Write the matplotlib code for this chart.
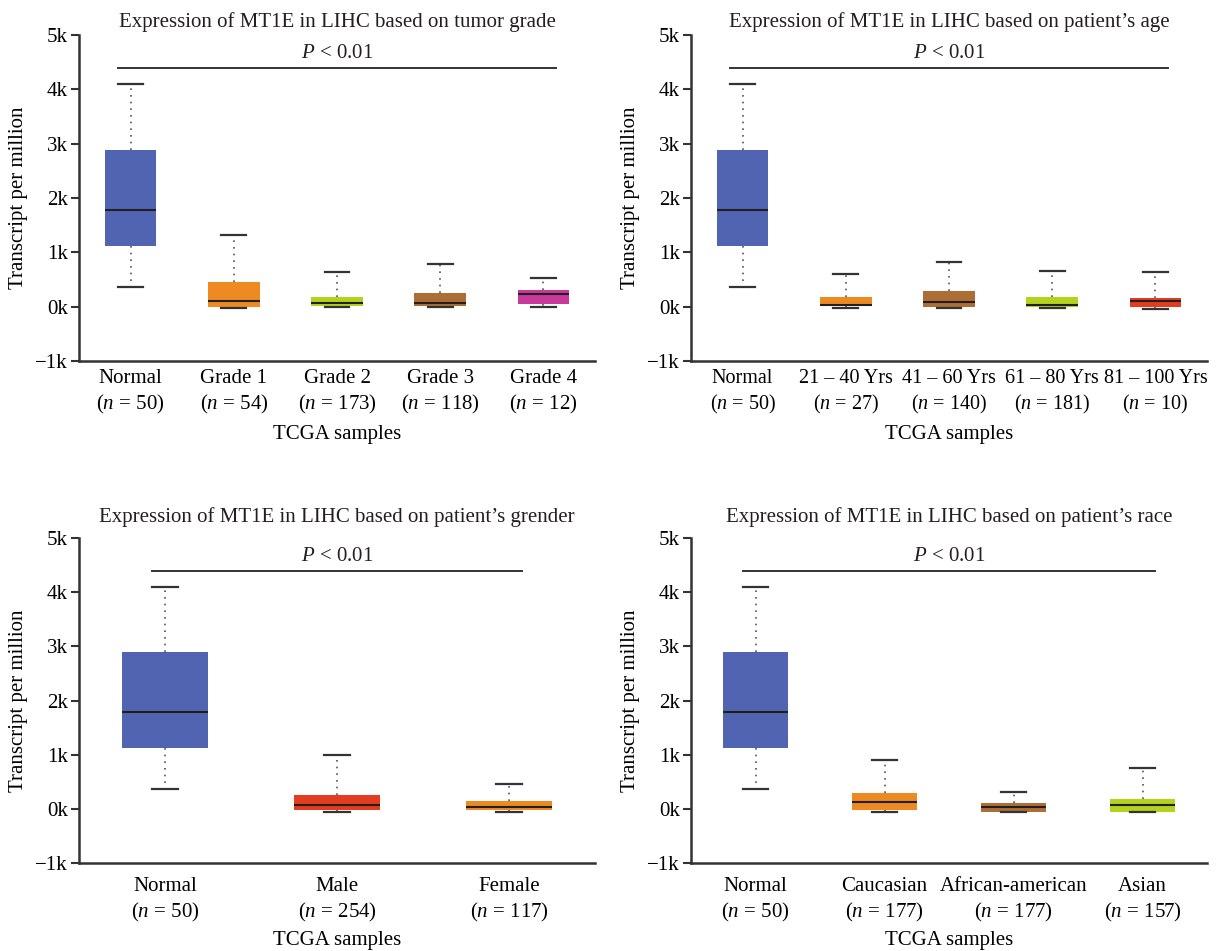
import matplotlib
matplotlib.use("Agg")
import matplotlib.pyplot as plt

plt.rcParams['font.family'] = ['Liberation Serif', 'DejaVu Serif']
plt.rcParams['mathtext.fontset'] = 'custom'
plt.rcParams['mathtext.rm'] = 'Liberation Serif'
plt.rcParams['mathtext.it'] = 'Liberation Serif:italic'
plt.rcParams['text.color'] = '#231f20'

BLUE, ORANGE, YGREEN, BROWN, MAGENTA, RED = '#5064b1', '#ed8a21', '#b3d31c', '#ad6e35', '#c9389b', '#e33c1e'

# panel A: tumor grade
grade_groups = ['Normal', 'Grade 1', 'Grade 2', 'Grade 3', 'Grade 4']
grade_n = [50, 54, 173, 118, 12]
grade_lo = [370, -20, -13, -13, -13]
grade_q1 = [1115, 0, 5, 5, 43]
grade_med = [1785, 110, 60, 60, 235]
grade_q3 = [2890, 463, 185, 260, 315]
grade_hi = [4090, 1310, 635, 790, 525]
grade_colors = [BLUE, ORANGE, YGREEN, BROWN, MAGENTA]

# panel B: age
age_groups = ['Normal', '21 \u2013 40 Yrs', '41 \u2013 60 Yrs', '61 \u2013 80 Yrs', '81 \u2013 100 Yrs']
age_n = [50, 27, 140, 181, 10]
age_lo = [370, -20, -30, -30, -50]
age_q1 = [1115, 5, -13, -13, -13]
age_med = [1785, 30, 87, 37, 100]
age_q3 = [2890, 185, 280, 185, 167]
age_hi = [4090, 610, 815, 660, 635]
age_colors = [BLUE, ORANGE, BROWN, YGREEN, RED]

# panel C: gender
sex_groups = ['Normal', 'Male', 'Female']
sex_n = [50, 254, 117]
sex_lo = [370, -50, -50]
sex_q1 = [1115, -30, -30]
sex_med = [1785, 80, 43]
sex_q3 = [2890, 260, 148]
sex_hi = [4090, 1000, 450]
sex_colors = [BLUE, RED, ORANGE]

# panel D: race
race_groups = ['Normal', 'Caucasian', 'African-american', 'Asian']
race_n = [50, 177, 177, 157]
race_lo = [370, -60, -60, -60]
race_q1 = [1115, -30, -50, -50]
race_med = [1785, 124, 25, 68]
race_q3 = [2890, 296, 110, 185]
race_hi = [4090, 910, 315, 755]
race_colors = [BLUE, ORANGE, BROWN, YGREEN]

titles = ['Expression of MT1E in LIHC based on tumor grade',
          'Expression of MT1E in LIHC based on patient\u2019s age',
          'Expression of MT1E in LIHC based on patient\u2019s grender',
          'Expression of MT1E in LIHC based on patient\u2019s race']
yticks = [-1000, 0, 1000, 2000, 3000, 4000, 5000]
ytick_labels = ['\u22121k', '0k', '1k', '2k', '3k', '4k', '5k']

W, H = 1218, 951
fig = plt.figure(figsize=(W / 100, H / 100), dpi=100)

# (left, right, top, bottom) in pixels, cap width, title offset, tick pad, xlabel offset, x tick size
boxes = [(79, 595, 35, 361, 0.24, 13, 6, 74, 15),
         (691, 1207, 35, 361, 0.24, 13, 6, 74, 14.5),
         (79, 595, 538, 863, 0.15, 21, 10, 77, 15),
         (691, 1207, 538, 863, 0.2, 21, 10, 77, 15)]

panels = [(grade_groups, grade_n, grade_lo, grade_q1, grade_med, grade_q3, grade_hi, grade_colors),
          (age_groups, age_n, age_lo, age_q1, age_med, age_q3, age_hi, age_colors),
          (sex_groups, sex_n, sex_lo, sex_q1, sex_med, sex_q3, sex_hi, sex_colors),
          (race_groups, race_n, race_lo, race_q1, race_med, race_q3, race_hi, race_colors)]

for k, (panel, geo) in enumerate(zip(panels, boxes)):
    groups, ns, lo, q1, med, q3, hi, colors = panel
    l, r, t, b, capw, tpad, xpad, xl, xsize = geo
    ax = fig.add_axes([l / W, (H - b) / H, (r - l) / W, (b - t) / H])
    stats = [dict(whislo=a, q1=c, med=d, q3=e, whishi=f, fliers=[])
             for a, c, d, e, f in zip(lo, q1, med, q3, hi)]
    pos = list(range(len(groups)))
    bp = ax.bxp(stats, positions=pos, widths=0.5, patch_artist=True, showfliers=False,
                capwidths=capw,
                boxprops=dict(linewidth=0),
                medianprops=dict(color='#231f20', linewidth=1.5),
                whiskerprops=dict(color='#555555', linewidth=1.2, linestyle=(0, (1, 3))),
                capprops=dict(color='#333333', linewidth=1.6))
    for patch, c in zip(bp['boxes'], colors):
        patch.set_facecolor(c)

    ax.set_xlim(-0.5, len(groups) - 0.5)
    ax.set_ylim(-1000, 5000)
    ax.set_yticks(yticks)
    ax.set_yticklabels(ytick_labels)
    ax.set_xticks(pos)
    ax.set_xticklabels([f'{g}\n($n$ = {n})' for g, n in zip(groups, ns)], linespacing=1.3)
    ax.tick_params(axis='x', length=0, pad=xpad, labelsize=xsize)
    ax.tick_params(axis='y', length=6, width=1.5, color='#333333', labelsize=15, pad=2)
    for s in ['top', 'right']:
        ax.spines[s].set_visible(False)
    for s in ['left', 'bottom']:
        ax.spines[s].set_linewidth(1.8)
        ax.spines[s].set_color('#333333')

    # significance bar
    ax.plot([pos[0] - capw / 2, pos[-1] + capw / 2], [4400, 4400], color='#333333', lw=1.4)
    ax.text((pos[0] + pos[-1]) / 2, 4660, '$P$ < 0.01', ha='center', va='center', fontsize=15)

    ax.text(0.5, 1 + tpad / (b - t), titles[k], transform=ax.transAxes,
            ha='center', va='center', fontsize=15)
    ax.set_ylabel('Transcript per million', fontsize=15)
    ax.yaxis.set_label_coords(-60 / (r - l), 0.5)
    ax.set_xlabel('TCGA samples', fontsize=15)
    ax.xaxis.set_label_coords(0.5, -xl / (b - t))
    ax.xaxis.label.set_va('center')
    ax.yaxis.label.set_va('center')

fig.savefig('out.png', dpi=100)
